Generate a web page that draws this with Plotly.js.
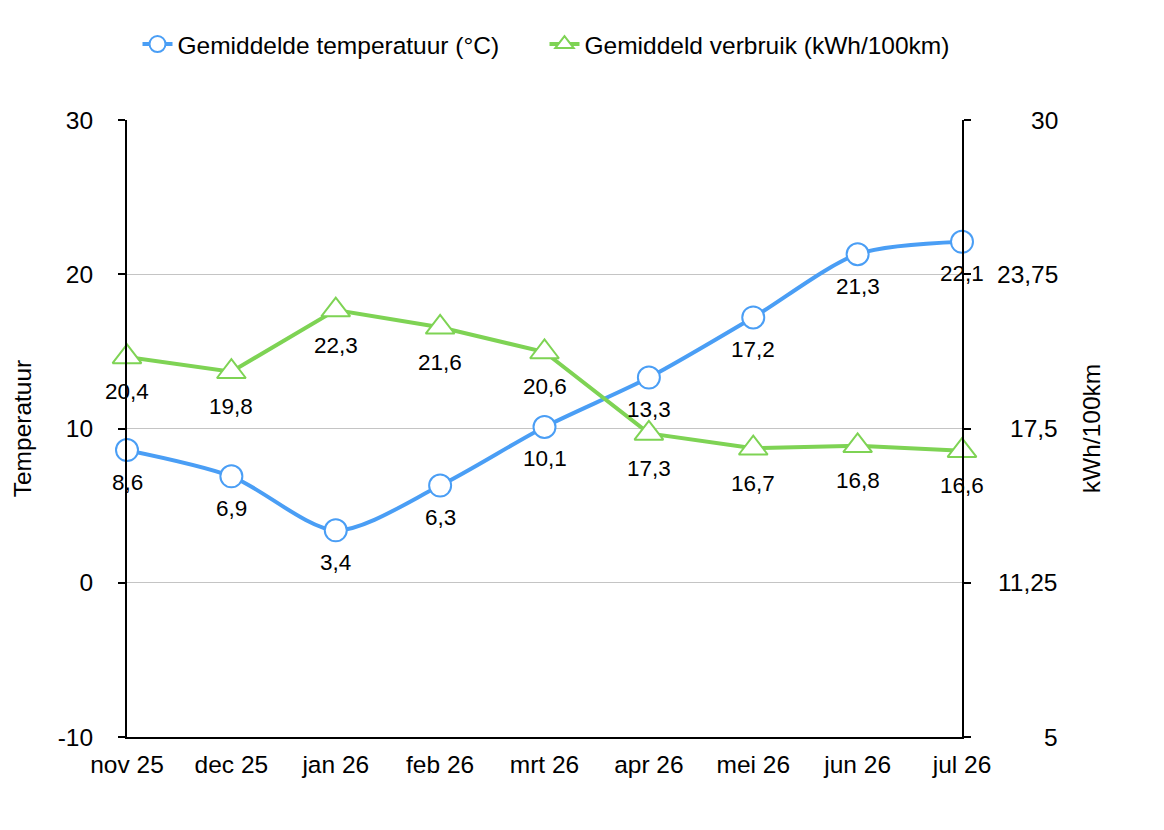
<!DOCTYPE html>
<html>
<head>
<meta charset="utf-8">
<script src="https://cdn.plot.ly/plotly-3.0.1.min.js"></script>
<style>html,body{margin:0;padding:0;background:#fff;}#chart{width:1164px;height:830px;}</style>
</head>
<body>
<div id="chart"></div>
<script>
const months = ["nov 25","dec 25","jan 26","feb 26","mrt 26","apr 26","mei 26","jun 26","jul 26"];
const temperature = [8.6, 6.9, 3.4, 6.3, 10.1, 13.3, 17.2, 21.3, 22.1];
const consumption = [20.4, 19.8, 22.3, 21.6, 20.6, 17.3, 16.7, 16.8, 16.6];
const leftTicks = [-10, 0, 10, 20, 30];
const rightTicks = [5, 11.25, 17.5, 23.75, 30];
const rightTickLabels = ["5", "11,25", "17,5", "23,75", "30"];
const tempName = "Gemiddelde temperatuur (°C)";
const consName = "Gemiddeld verbruik (kWh/100km)";
const leftTitle = "Temperatuur";
const rightTitle = "kWh/100km";

const BLUE = "#4a9ef5";
const GREEN = "#7ed354";
const FONT = "Liberation Sans, Arial, sans-serif";
const TICK_SIZE = 24.5;
const LABEL_SIZE = 22.5;
const fmt = v => String(v).replace(".", ",");

const traces = [
  {
    x: months, y: consumption, yaxis: "y2", name: consName, type: "scatter",
    mode: "lines+markers",
    line: {color: GREEN, width: 4},
    marker: {symbol: "triangle-up", size: 25, color: "#ffffff", line: {color: GREEN, width: 2}},
    cliponaxis: false
  },
  {
    x: months, y: temperature, yaxis: "y", name: tempName, type: "scatter",
    mode: "lines+markers",
    line: {color: BLUE, width: 4, shape: "spline", smoothing: 0.8},
    marker: {symbol: "circle", size: 22, color: "#ffffff", line: {color: BLUE, width: 2}},
    cliponaxis: false
  }
];

const annotations = [];
months.forEach((m, i) => {
  annotations.push({x: m, y: consumption[i], xref: "x", yref: "y2", text: fmt(consumption[i]),
    showarrow: false, yshift: -35, font: {family: FONT, size: LABEL_SIZE, color: "#000"}});
});
months.forEach((m, i) => {
  annotations.push({x: m, y: temperature[i], xref: "x", yref: "y", text: fmt(temperature[i]),
    showarrow: false, yshift: -32, font: {family: FONT, size: LABEL_SIZE, color: "#000"}});
});
rightTicks.forEach((v, i) => {
  annotations.push({x: 1.1176, y: v, xref: "paper", yref: "y2", text: rightTickLabels[i],
    xanchor: "right", yanchor: "middle", showarrow: false,
    font: {family: FONT, size: TICK_SIZE, color: "#000"}});
});

const layout = {
  width: 1164, height: 830,
  margin: {l: 127, r: 202, t: 120, b: 93},
  paper_bgcolor: "#ffffff", plot_bgcolor: "#ffffff",
  font: {family: FONT, size: TICK_SIZE, color: "#000"},
  showlegend: true,
  legend: {orientation: "h", x: 0.5, xanchor: "center", y: 1.123, yanchor: "middle",
    font: {family: FONT, size: TICK_SIZE, color: "#000"}, traceorder: "reversed", itemwidth: 30,
    entrywidth: 362, entrywidthmode: "pixels"},
  xaxis: {
    type: "category", categoryorder: "array", categoryarray: months,
    range: [0, months.length - 1],
    showgrid: false, zeroline: false,
    showline: true, linecolor: "#000", linewidth: 2,
    ticks: "", ticklabelstandoff: 5,
    tickfont: {family: FONT, size: TICK_SIZE, color: "#000"}
  },
  yaxis: {
    range: [-10, 30], tickvals: leftTicks, ticktext: leftTicks.map(String),
    showgrid: true, gridcolor: "#c4c4c4", gridwidth: 1, zeroline: false,
    showline: true, linecolor: "#000", linewidth: 2,
    ticks: "outside", ticklen: 7, tickwidth: 2, tickcolor: "#000",
    ticklabelstandoff: 20,
    tickfont: {family: FONT, size: TICK_SIZE, color: "#000"},
    title: {text: leftTitle, font: {family: FONT, size: TICK_SIZE, color: "#000"}, standoff: 19}
  },
  yaxis2: {
    range: [5, 30], tickvals: rightTicks, ticktext: rightTicks.map(() => ""),
    overlaying: "y", side: "right", anchor: "x",
    showgrid: false, zeroline: false,
    showline: true, linecolor: "#000", linewidth: 2,
    ticks: "outside", ticklen: 7, tickwidth: 2, tickcolor: "#000",
    title: {text: rightTitle, font: {family: FONT, size: TICK_SIZE, color: "#000"}, standoff: 108}
  },
  yaxis3: {
    range: [-10, 30], tickvals: leftTicks, overlaying: "y", side: "left", anchor: "x",
    showgrid: false, zeroline: false, showline: false, showticklabels: false,
    ticks: "inside", ticklen: 7, tickwidth: 2, tickcolor: "#000"
  },
  yaxis4: {
    range: [5, 30], tickvals: rightTicks, overlaying: "y", side: "right", anchor: "x",
    showgrid: false, zeroline: false, showline: false, showticklabels: false,
    ticks: "inside", ticklen: 7, tickwidth: 2, tickcolor: "#000"
  },
  annotations: annotations
};

Plotly.newPlot("chart", traces, layout, {displayModeBar: false, staticPlot: true});
</script>
</body>
</html>
